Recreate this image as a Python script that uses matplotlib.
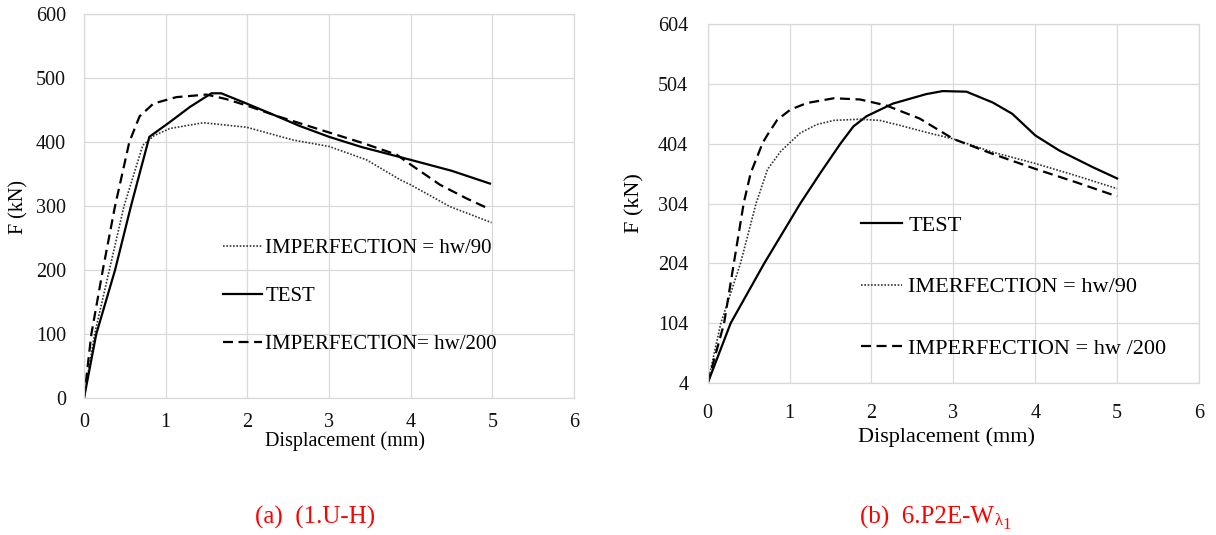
import matplotlib
matplotlib.use("Agg")
import matplotlib.pyplot as plt
from matplotlib.ticker import MultipleLocator

plt.rcParams['font.family'] = ['Liberation Serif', 'DejaVu Serif']
plt.rcParams['mathtext.fontset'] = 'stix'

# ---- (a) 1.U-H ----
a_test_x = [0, 0.15, 0.38, 0.575, 0.80, 1.05, 1.3, 1.56, 1.68, 1.99, 2.31, 2.64, 3.0, 3.4, 4.0, 4.5, 4.97]
a_test_y = [0, 100, 200, 300, 408, 431, 455, 476, 476, 460, 443, 425, 408, 392, 372, 355, 335]
a_hw90_x = [0, 0.13, 0.31, 0.49, 0.72, 0.86, 1.05, 1.46, 1.99, 2.56, 3.0, 3.46, 3.87, 4.0, 4.48, 4.99]
a_hw90_y = [0, 100, 200, 300, 395, 410, 421, 430, 423, 403, 393, 372, 341, 333, 299, 274]
a_hw200_x = [0, 0.09, 0.23, 0.38, 0.555, 0.68, 0.85, 1.13, 1.5, 1.74, 1.99, 2.35, 2.97, 3.42, 3.83, 3.95, 4.36, 4.68, 4.95]
a_hw200_y = [0, 100, 200, 300, 400, 440, 460, 470, 474, 467, 457, 441, 416, 398, 380, 369, 333, 312, 296]

# ---- (b) 6.P2E-W ----
b_test_x = [0, 0.28, 0.69, 1.13, 1.38, 1.62, 1.78, 1.94, 2.26, 2.67, 2.87, 3.16, 3.48, 3.72, 4.0, 4.29, 4.70, 5.0]
b_test_y = [4, 104, 204, 304, 356, 404, 433, 450, 471, 487, 492, 491, 473, 454, 418, 393, 365, 346]
b_hw90_x = [0, 0.16, 0.40, 0.59, 0.73, 0.89, 0.99, 1.13, 1.33, 1.54, 1.86, 2.1, 2.34, 2.67, 3.0, 3.48, 4.0, 4.49, 5.0]
b_hw90_y = [4, 104, 204, 304, 361, 391, 404, 422, 436, 443, 445, 443, 435, 423, 412, 390, 371, 351, 329]
b_hw200_x = [0, 0.2, 0.32, 0.44, 0.525, 0.67, 0.73, 0.85, 1.01, 1.21, 1.54, 1.86, 2.18, 2.59, 3.0, 3.48, 4.0, 4.49, 5.0]
b_hw200_y = [4, 104, 205, 305, 355, 405, 419, 444, 461, 472, 480, 478, 468, 446, 412, 387, 362, 340, 316]

a_yticks = [0, 100, 200, 300, 400, 500, 600]
b_yticks = [4, 104, 204, 304, 404, 504, 604]

FS = 14.5
GRID = '#d9d9d9'

solid = dict(color='black', lw=1.6, linestyle='-')
dotted = dict(color='#333333', lw=1.2, linestyle=(0, (1, 1)))
dashed = dict(color='black', lw=1.6, linestyle=(0, (4.5, 2.5)))


def style_axes(ax, yticks, ypad, xpad, label_fs):
    ax.set_xlim(0, 6)
    ax.set_ylim(yticks[0], yticks[-1])
    ax.xaxis.set_major_locator(MultipleLocator(1))
    ax.set_yticks(yticks)
    ax.grid(True, color=GRID, lw=0.9)
    ax.set_axisbelow(True)
    for s in ax.spines.values():
        s.set_color(GRID)
        s.set_linewidth(0.9)
    ax.tick_params(axis='both', length=0, labelsize=FS, colors='#111111')
    ax.tick_params(axis='y', pad=ypad)
    ax.tick_params(axis='x', pad=xpad)
    ax.set_xlabel('Displacement (mm)', fontsize=label_fs)
    ax.set_ylabel('F (kN)', fontsize=label_fs)


fig = plt.figure(figsize=(12.16, 5.35), dpi=100)

ax1 = fig.add_axes([0.0691, 0.256, 0.403, 0.718])
style_axes(ax1, a_yticks, 13, 11, 14.5)
h90, = ax1.plot(a_hw90_x, a_hw90_y, **dotted)
ht, = ax1.plot(a_test_x, a_test_y, **solid)
h200, = ax1.plot(a_hw200_x, a_hw200_y, **dashed)
ax1.legend([h90, ht, h200], ['IMPERFECTION = hw/90', 'TEST', 'IMPERFECTION= hw/200'],
           loc='center left', bbox_to_anchor=(0.283, 0.265), frameon=False,
           fontsize=15, borderpad=0, borderaxespad=0, handlelength=1.87,
           handletextpad=0.17, labelspacing=1.37)
ax1.xaxis.set_label_coords(0.533, -0.086)
ax1.yaxis.set_label_coords(-0.113, 0.497)

ax2 = fig.add_axes([0.582, 0.284, 0.404, 0.671])
style_axes(ax2, b_yticks, 14, 15, 16)
ht2, = ax2.plot(b_test_x, b_test_y, **solid)
h902, = ax2.plot(b_hw90_x, b_hw90_y, **dotted)
h2002, = ax2.plot(b_hw200_x, b_hw200_y, **dashed)
ax2.legend([ht2, h902, h2002], ['TEST', 'IMERFECTION = hw/90', 'IMPERFECTION = hw /200'],
           loc='center left', bbox_to_anchor=(0.312, 0.267), frameon=False,
           fontsize=16, borderpad=0, borderaxespad=0, handlelength=1.85,
           handletextpad=0.27, labelspacing=1.83)
ax2.xaxis.set_label_coords(0.486, -0.122)
ax2.yaxis.set_label_coords(-0.129, 0.501)

# red captions under each panel; the subscript lambda_1 is added piece by piece
fig.text(0.2097, 0.0206, '(a)  (1.U-H)', color='red', fontsize=18, va='baseline')
cap_b = fig.text(0.707, 0.0206, '(b)  6.P2E-W', color='red', fontsize=18, va='baseline')
lam = ax2.annotate('\u03bb', xy=(1, 0), xycoords=cap_b, xytext=(0.5, 3),
                   textcoords='offset points', color='red', fontsize=12,
                   va='baseline', ha='left', annotation_clip=False)
ax2.annotate('1', xy=(1, 0), xycoords=lam, xytext=(0, 0),
             textcoords='offset points', color='red', fontsize=12,
             va='baseline', ha='left', annotation_clip=False)

fig.savefig('out.png', dpi=100)
